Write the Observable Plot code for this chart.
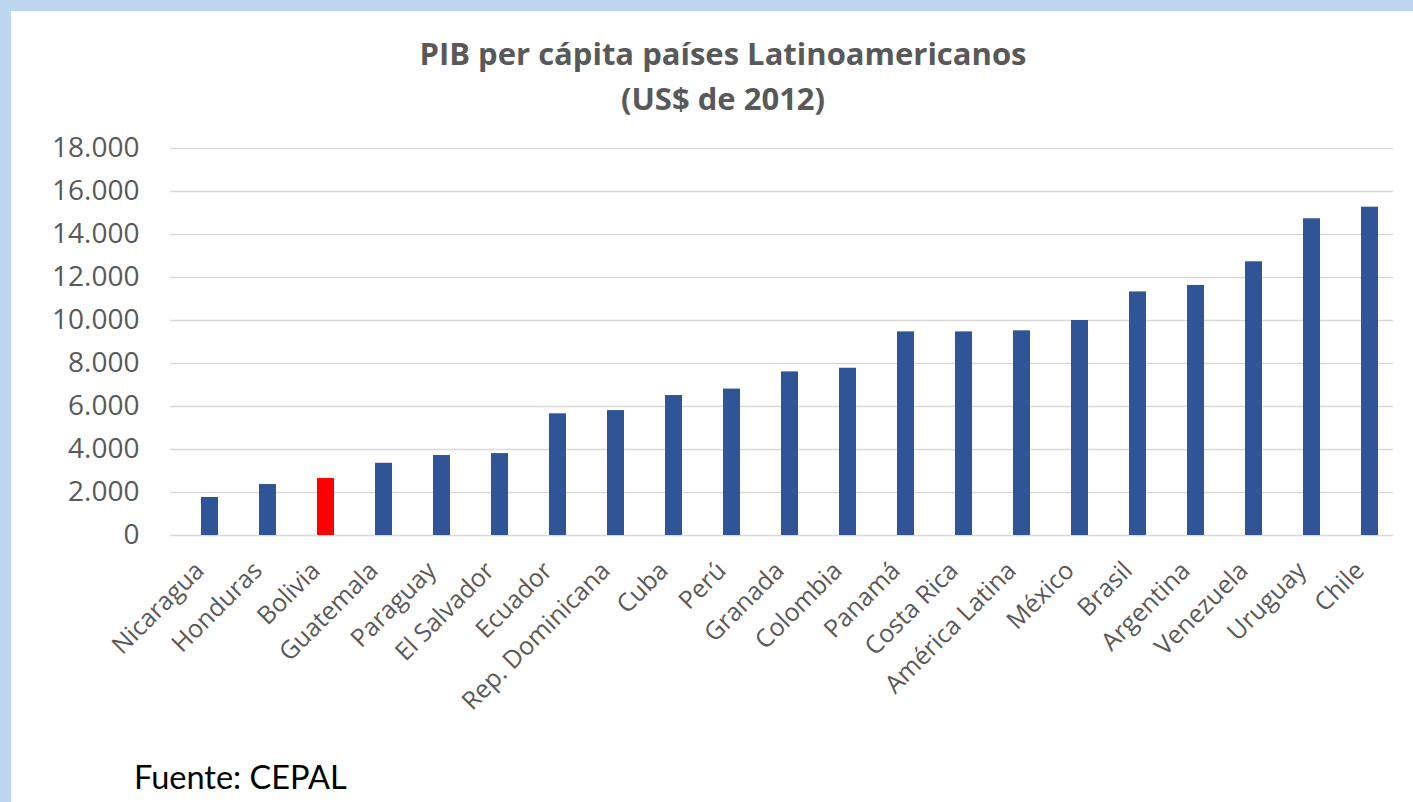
<!DOCTYPE html>
<html>
<head>
<meta charset="utf-8">
<script src="https://cdn.jsdelivr.net/npm/d3@7"></script>
<script src="https://cdn.jsdelivr.net/npm/@observablehq/plot@0.6"></script>
<style>
  html, body { margin: 0; padding: 0; }
  body { width: 1413px; height: 802px; background: #BDD7EE; overflow: hidden; position: relative; }
  #panel { position: absolute; left: 11px; top: 11px; width: 1402px; height: 791px; background: #fff; }
  #title { position: absolute; left: 0; top: 20px; width: 1424px; text-align: center; font-family: "Open Sans", sans-serif; font-weight: bold; font-size: 31px; line-height: 45px; color: #595959; }
  #chart { position: absolute; left: 0; top: 99px; }
  #source { position: absolute; left: 123px; top: 746px; font-family: "Lato", "Open Sans", sans-serif; font-size: 32.5px; color: #000; }
</style>
</head>
<body>
<div id="panel">
  <div id="title">PIB per cápita países Latinoamericanos<br>(US$ de 2012)</div>
  <div id="chart"></div>
  <div id="source">Fuente: CEPAL</div>
</div>
<script>
const paises = ["Nicaragua", "Honduras", "Bolivia", "Guatemala", "Paraguay", "El Salvador", "Ecuador", "Rep. Dominicana", "Cuba", "Perú", "Granada", "Colombia", "Panamá", "Costa Rica", "América Latina", "México", "Brasil", "Argentina", "Venezuela", "Uruguay", "Chile"];
const pib = [1770, 2370, 2650, 3360, 3720, 3810, 5660, 5810, 6510, 6810, 7610, 7780, 9470, 9470, 9520, 10000, 11330, 11630, 12730, 14730, 15270];
const yTicks = [0, 2000, 4000, 6000, 8000, 10000, 12000, 14000, 16000, 18000];
const destacado = "Bolivia";

const data = paises.map((p, i) => ({pais: p, valor: pib[i]}));
const fmt = d => d3.format(",")(d).replace(/,/g, ".");

const chart = Plot.plot({
  width: 1402,
  height: 620,
  marginTop: 38,
  marginBottom: 195,
  marginLeft: 167,
  marginRight: 12,
  style: {fontFamily: "Open Sans, sans-serif", color: "#595959", background: "transparent", overflow: "visible"},
  x: {domain: paises, paddingInner: 0.7, paddingOuter: 0.35, label: null},
  y: {domain: [0, 18000], label: null},
  marks: [
    Plot.ruleY(yTicks, {stroke: "#D9D9D9", strokeWidth: 1.5, dx: -8}),
    Plot.barY(data, {x: "pais", y: "valor", fill: d => d.pais === destacado ? "#FF0000" : "#2F5597"}),
    Plot.axisY({ticks: yTicks, tickFormat: fmt, tickSize: 0, tickPadding: 39, fontSize: 28, label: null}),
    Plot.axisX({tickSize: 0, tickRotate: -45, tickPadding: 31, fontSize: 25, label: null, dx: -10})
  ]
});
document.getElementById("chart").appendChild(chart);
</script>
</body>
</html>
